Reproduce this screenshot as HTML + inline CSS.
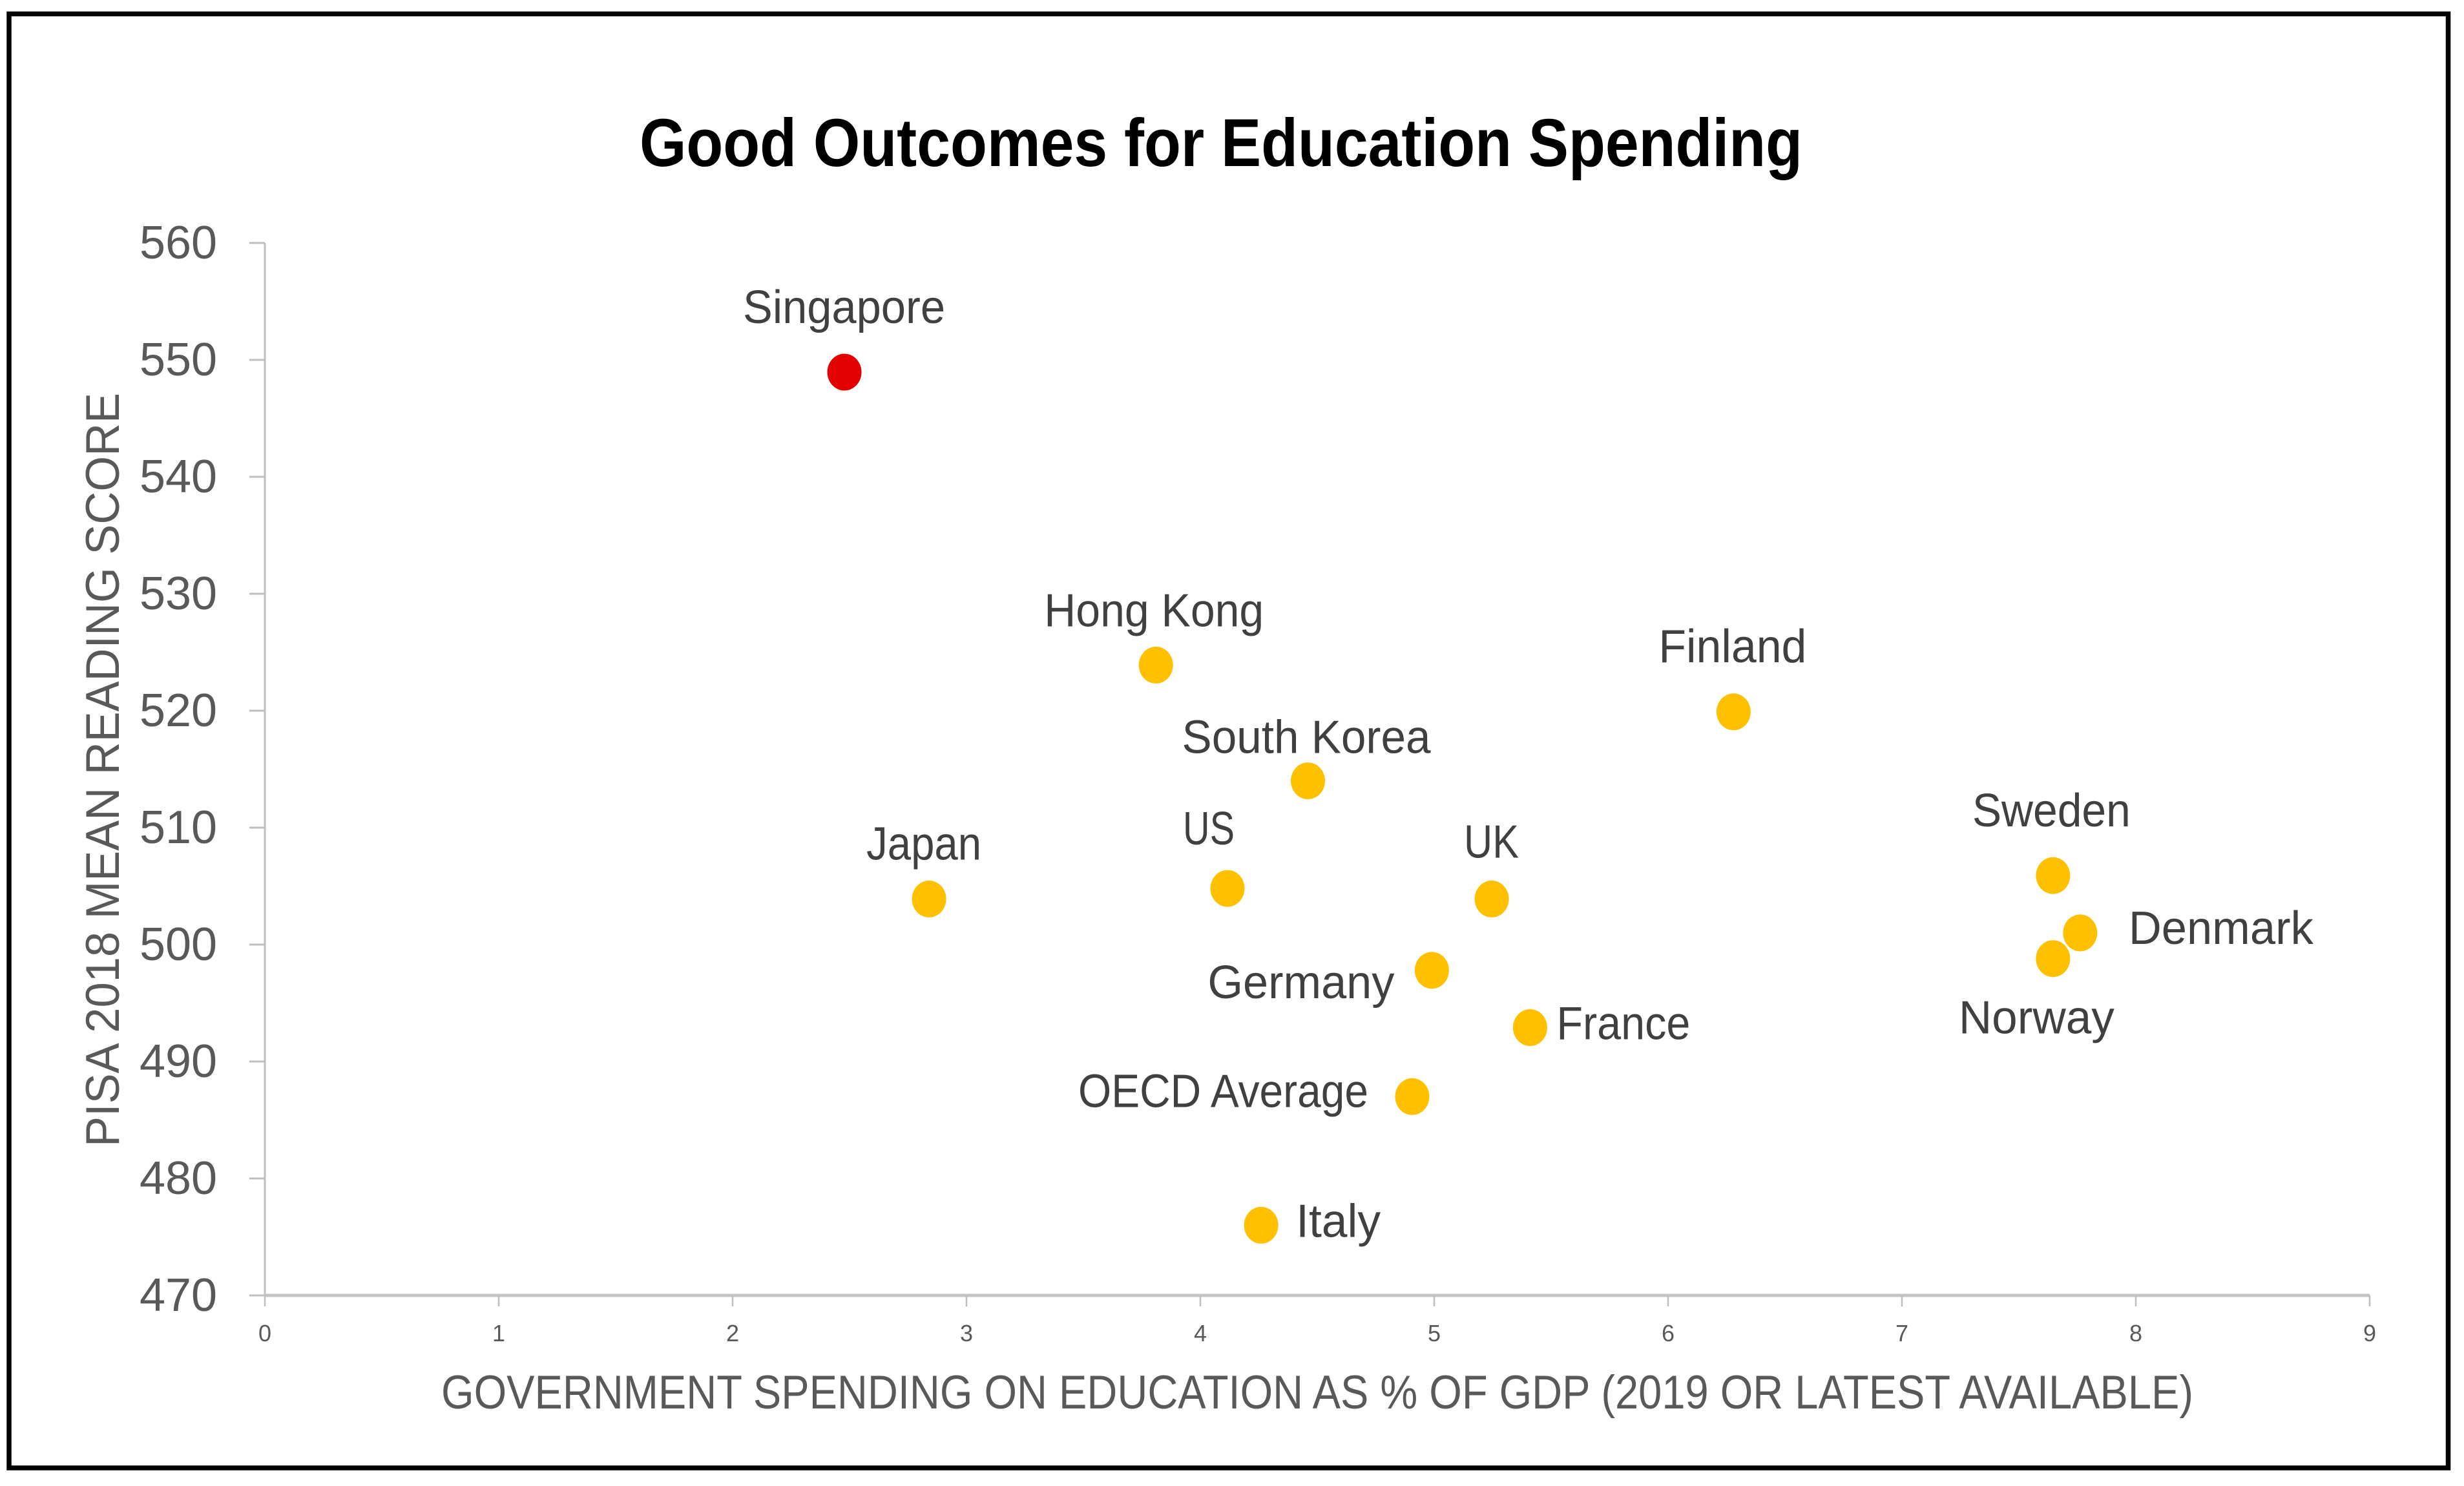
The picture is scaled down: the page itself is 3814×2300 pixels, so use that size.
<!DOCTYPE html>
<html lang="en">
<head>
<meta charset="utf-8">
<title>Good Outcomes for Education Spending</title>
<style>
html,body{margin:0;padding:0;background:#fff;width:3814px;height:2300px;overflow:hidden}
svg{display:block}
text{font-family:"Liberation Sans",sans-serif}
</style>
</head>
<body>
<svg id="chart" xmlns="http://www.w3.org/2000/svg" width="3814" height="2300" viewBox="0 0 3814 2300">
  <rect x="0" y="0" width="3814" height="2300" fill="#fff"/>
  <rect x="14" y="21.5" width="3775.5" height="2250.5" fill="none" stroke="#000" stroke-width="7.5"/>
  <text x="990" y="257" font-size="105" font-weight="700" fill="#000" textLength="1800" lengthAdjust="spacingAndGlyphs">Good Outcomes for Education Spending</text>
  <text transform="translate(184,1775) rotate(-90)" font-size="73" fill="#595959" textLength="1167" lengthAdjust="spacingAndGlyphs">PISA 2018 MEAN READING SCORE</text>
  <text x="683" y="2180" font-size="73" fill="#595959" textLength="2712" lengthAdjust="spacingAndGlyphs">GOVERNMENT SPENDING ON EDUCATION AS % OF GDP (2019 OR LATEST AVAILABLE)</text>
  <g id="axes"></g>
  <g id="points"></g>
  <g id="labels"></g>
</svg>
<script>
const countries = ['Singapore','Hong Kong','Japan','US','South Korea','Finland','UK','Germany','France','OECD Average','Italy','Sweden','Denmark','Norway'];
const spending = [2.478,3.81,2.84,4.116,4.46,6.28,5.246,4.99,5.41,4.906,4.26,7.646,7.762,7.646];
const scores = [548.95,523.9,503.9,504.8,514,519.9,503.9,497.8,492.9,487,476,505.9,501,498.8];
const highlighted = ['Singapore'];
const xTickValues = [0,1,2,3,4,5,6,7,8,9];
const yTickValues = [470,480,490,500,510,520,530,540,550,560];

const NS = 'http://www.w3.org/2000/svg';
const plot = {left:410, right:3668, top:376, bottom:2005, xMin:0, xMax:9, yMin:470, yMax:560};
function xScale(v){ return plot.left + (v - plot.xMin) / (plot.xMax - plot.xMin) * (plot.right - plot.left); }
function yScale(v){ return plot.bottom - (v - plot.yMin) / (plot.yMax - plot.yMin) * (plot.bottom - plot.top); }

const labelLayout = {
  'Singapore':{dx:-157,dy:-76,w:313},
  'Hong Kong':{dx:-173,dy:-60,w:340},
  'Japan':{dx:-97,dy:-61,w:178},
  'US':{dx:-69,dy:-68,w:80},
  'South Korea':{dx:-195,dy:-43,w:385},
  'Finland':{dx:-116,dy:-77,w:229},
  'UK':{dx:-43,dy:-64,w:85},
  'Germany':{dx:-347,dy:43,w:289},
  'France':{dx:41,dy:18,w:207},
  'OECD Average':{dx:-517,dy:16,w:449},
  'Italy':{dx:54,dy:18,w:131},
  'Sweden':{dx:-125,dy:-76,w:245},
  'Denmark':{dx:75,dy:17,w:286},
  'Norway':{dx:-146,dy:116,w:241}
};

function make(tag, attrs, parent){
  const el = document.createElementNS(NS, tag);
  for (const k in attrs) el.setAttribute(k, attrs[k]);
  parent.appendChild(el);
  return el;
}

const axes = document.getElementById('axes');
const pointsGroup = document.getElementById('points');
const labelsGroup = document.getElementById('labels');

const yAxisLine = make('line',{x1:plot.left,y1:plot.top,x2:plot.left,y2:plot.bottom,stroke:'#bfbfbf','stroke-width':3},axes);


const xAxisLine = make('line',{x1:plot.left,y1:plot.bottom,x2:plot.right,y2:plot.bottom,stroke:'#c4c4c4','stroke-width':5},axes);



yTickValues.forEach(function(v){
  const y = yScale(v);
  const tick = make('line',{x1:386,y1:y,x2:plot.left,y2:y,stroke:'#bfbfbf','stroke-width':3},axes);
  
  
  const label = make('text',{x:216,y:y+24,'font-size':72,fill:'#595959',textLength:120,lengthAdjust:'spacingAndGlyphs'},axes);
  
  
  label.textContent = String(v);
});

xTickValues.forEach(function(v){
  const x = xScale(v);
  const tick = make('line',{x1:x,y1:plot.bottom,x2:x,y2:plot.bottom+17,stroke:'#bfbfbf','stroke-width':2.5},axes);
  
  
  const label = make('text',{x:x,y:2076,'font-size':36,fill:'#595959','text-anchor':'middle'},axes);
  
  
  label.textContent = String(v);
});

countries.forEach(function(name, i){
  const cx = xScale(spending[i]);
  const cy = yScale(scores[i]);
  const isHighlighted = highlighted.indexOf(name) !== -1;
  const dot = make('ellipse',{cx:cx,cy:cy,rx:26.5,ry:28.5,fill:isHighlighted ? '#e30000' : '#ffc000'},pointsGroup);
  
  
  const layout = labelLayout[name];
  const label = make('text',{x:cx+layout.dx,y:cy+layout.dy,'font-size':72,fill:'#404040',textLength:layout.w,lengthAdjust:'spacingAndGlyphs'},labelsGroup);
  
  
  label.textContent = name;
});
</script>
</body>
</html>
